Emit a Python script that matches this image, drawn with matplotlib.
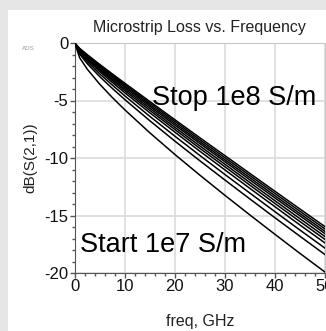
import matplotlib
matplotlib.use("Agg")
import matplotlib.pyplot as plt
from matplotlib.patches import Rectangle
from matplotlib.ticker import MultipleLocator

plt.rcParams['font.family'] = ['Liberation Sans', 'DejaVu Sans']
plt.rcParams['axes.unicode_minus'] = False

# frequency points, GHz
freq = [0, 1, 2.5, 5, 7.5, 10, 15, 20, 25, 30, 35, 40, 45, 50]

# dB(S(2,1)) for conductivity sweep 1e7 .. 1e8 S/m
s21_1e7 = [0, -1.29, -2.27, -3.58, -4.73, -5.80, -7.80, -9.68, -11.48, -13.23, -14.94, -16.62, -18.28, -19.90]
s21_2e7 = [0, -0.97, -1.79, -2.92, -3.94, -4.91, -6.75, -8.52, -10.23, -11.90, -13.55, -15.18, -16.79, -18.38]
s21_3e7 = [0, -0.86, -1.61, -2.68, -3.65, -4.59, -6.37, -8.09, -9.77, -11.42, -13.04, -14.65, -16.25, -17.82]
s21_4e7 = [0, -0.76, -1.46, -2.48, -3.42, -4.32, -6.06, -7.74, -9.40, -11.02, -12.63, -14.22, -15.81, -17.37]
s21_5e7 = [0, -0.70, -1.37, -2.35, -3.26, -4.14, -5.85, -7.51, -9.15, -10.75, -12.35, -13.94, -15.51, -17.06]
s21_6e7 = [0, -0.65, -1.29, -2.24, -3.13, -3.99, -5.67, -7.32, -8.94, -10.53, -12.12, -13.70, -15.26, -16.81]
s21_7e7 = [0, -0.59, -1.20, -2.13, -3.00, -3.85, -5.50, -7.13, -8.73, -10.31, -11.89, -13.46, -15.01, -16.56]
s21_8e7 = [0, -0.55, -1.14, -2.04, -2.89, -3.73, -5.36, -6.97, -8.57, -10.14, -11.70, -13.27, -14.82, -16.36]
s21_9e7 = [0, -0.51, -1.07, -1.95, -2.79, -3.61, -5.22, -6.81, -8.40, -9.96, -11.51, -13.07, -14.62, -16.15]
s21_1e8 = [0, -0.47, -1.01, -1.86, -2.68, -3.49, -5.08, -6.66, -8.23, -9.78, -11.33, -12.88, -14.42, -15.95]

sweep = [s21_1e7, s21_2e7, s21_3e7, s21_4e7, s21_5e7,
         s21_6e7, s21_7e7, s21_8e7, s21_9e7, s21_1e8]

W, H = 326, 331
fig = plt.figure(figsize=(W / 100, H / 100), dpi=100)
fig.patch.set_facecolor("#e6e6e6")
fig.patches.append(Rectangle((8 / W, 0), 1, (H - 10) / H, transform=fig.transFigure,
                             facecolor="white", edgecolor="none", zorder=-5))

ax = fig.add_axes([74.7 / W, 58 / H, 250 / W, 230 / H])
for vals in sweep:
    ax.plot(freq, vals, color="black", lw=1.1, zorder=3)

ax.set_xlim(0, 50)
ax.set_ylim(-20, 0)
ax.xaxis.set_major_locator(MultipleLocator(10))
ax.xaxis.set_minor_locator(MultipleLocator(2))
ax.yaxis.set_major_locator(MultipleLocator(5))
ax.yaxis.set_minor_locator(MultipleLocator(1))
ax.grid(True, which="major", color="#dcdcdc", lw=1.2)
ax.set_axisbelow(True)

for side in ["top", "right"]:
    ax.spines[side].set_color("#c8c8c8")
for side in ["left", "bottom"]:
    ax.spines[side].set_color("#555555")
ax.tick_params(which="major", length=3.5, width=1, color="#555555",
               labelsize=12, labelcolor="#111111", pad=1)
ax.tick_params(which="minor", length=2.2, width=1, color="#555555")

ax.set_title("Microstrip Loss vs. Frequency", fontsize=11.5, color="#222222", pad=8)
ax.set_xlabel("freq, GHz", fontsize=11.5, color="#222222", labelpad=14)
ax.set_ylabel("dB(S(2,1))", fontsize=11, color="#222222", labelpad=5)

ax.text(15.5, -5.4, "Stop 1e8 S/m", fontsize=19.5, color="black", zorder=4)
ax.text(1.0, -18.2, "Start 1e7 S/m", fontsize=19.5, color="black", zorder=4)

fig.text(22 / W, 1 - 49 / H, "ADS", fontsize=4.5, color="#999999", va="center")

fig.savefig("out.png", dpi=100, facecolor=fig.get_facecolor())
